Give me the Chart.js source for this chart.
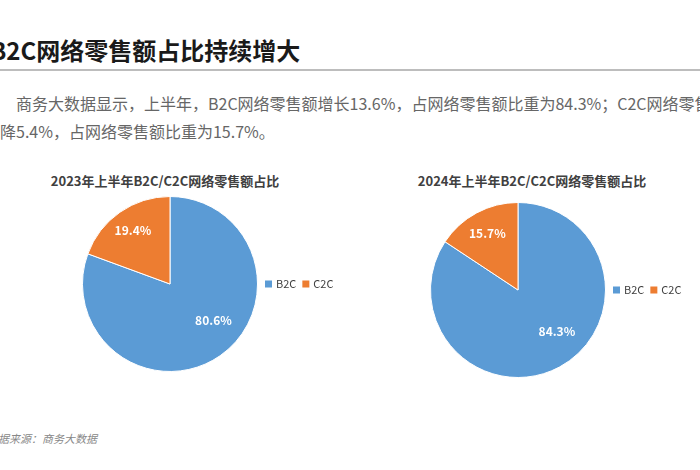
<!DOCTYPE html>
<html>
<head>
<meta charset="utf-8">
<script src="https://cdn.jsdelivr.net/npm/chart.js@4.4.1/dist/chart.umd.min.js"></script>
<style>
  body { margin: 0; width: 700px; height: 470px; overflow: hidden; background: #fff; position: relative;
         font-family: "Noto Sans CJK SC", sans-serif; }
  .headline { position: absolute; left: -10px; top: 33px; font-size: 24px; font-weight: 700; color: #1a1a1a;
              line-height: 34px; white-space: nowrap; }
  .rule { position: absolute; left: 0; top: 69px; width: 700px; height: 2px; background: #bdbdbd; }
  .para { position: absolute; left: -16px; white-space: nowrap; font-size: 16px; color: #666; line-height: 28px; }
  .ctitle { position: absolute; top: 171px; width: 300px; text-align: center; font-size: 13px; font-weight: 700;
            color: #404040; white-space: nowrap; line-height: 20px; }
  .source { position: absolute; left: -13px; top: 430px; font-size: 11px; font-style: italic; color: #888; white-space: nowrap; }
  canvas { position: absolute; }
</style>
</head>
<body>
<div class="headline">B2C网络零售额占比持续增大</div>
<div class="rule"></div>
<div class="para" style="top:89px;text-indent:32px;">商务大数据显示，上半年，B2C网络零售额增长13.6%，占网络零售额比重为84.3%；C2C网络零售额下</div>
<div class="para" style="top:117px;">下降5.4%，占网络零售额比重为15.7%。</div>

<div class="ctitle" style="left:15px;">2023年上半年B2C/C2C网络零售额占比</div>
<div class="ctitle" style="left:382px;">2024年上半年B2C/C2C网络零售额占比</div>

<div style="position:absolute;left:0;top:190px;width:350px;height:190px;"><canvas id="pie2023"></canvas></div>
<div style="position:absolute;left:350px;top:190px;width:350px;height:200px;"><canvas id="pie2024"></canvas></div>

<div class="source">数据来源：商务大数据</div>

<script>
const channels = ['B2C', 'C2C'];
const share2023 = [80.6, 19.4];
const share2024 = [84.3, 15.7];
const sliceColors = ['#5B9BD5', '#ED7D31'];

// white percentage text inside each slice
const sliceLabels = {
  id: 'sliceLabels',
  afterDatasetsDraw(chart) {
    const ctx = chart.ctx;
    const meta = chart.getDatasetMeta(0);
    const values = chart.data.datasets[0].data;
    ctx.save();
    ctx.font = 'bold 12px "Noto Sans CJK SC", sans-serif';
    ctx.fillStyle = '#fff';
    ctx.textAlign = 'center';
    ctx.textBaseline = 'middle';
    meta.data.forEach((arc, i) => {
      const p = arc.getProps(['x', 'y', 'startAngle', 'endAngle', 'outerRadius'], true);
      let mid = (p.startAngle + p.endAngle) / 2;
      let r = p.outerRadius * 0.74;
      if (values[i] > 50) {
        // excel style "best fit": big slice label turned back a little, closer in
        mid -= 0.26;
        r = p.outerRadius * 0.65;
      }
      ctx.fillText(values[i].toFixed(1) + '%', p.x + Math.cos(mid) * r, p.y + Math.sin(mid) * r);
    });
    ctx.restore();
  }
};

// legend in one row, right of the pie
const rowLegend = {
  id: 'rowLegend',
  afterDraw(chart) {
    const ctx = chart.ctx;
    const area = chart.chartArea;
    const colors = chart.data.datasets[0].backgroundColor;
    let x = area.right + 7;
    const y = (area.top + area.bottom) / 2;
    ctx.save();
    ctx.font = '11px "Noto Sans CJK SC", sans-serif';
    ctx.textBaseline = 'middle';
    chart.data.labels.forEach((lab, i) => {
      ctx.fillStyle = colors[i];
      ctx.fillRect(x, y - 3.5, 7, 7);
      x += 11;
      ctx.fillStyle = '#404040';
      ctx.fillText(lab, x, y);
      x += ctx.measureText(lab).width + 6;
    });
    ctx.restore();
  }
};

function makePie(id, values, pad) {
  return new Chart(document.getElementById(id), {
    type: 'pie',
    data: {
      labels: channels,
      datasets: [{
        data: values,
        backgroundColor: sliceColors,
        borderColor: '#fff',
        borderWidth: 1
      }]
    },
    options: {
      animation: false,
      responsive: true,
      maintainAspectRatio: false,
      layout: { padding: pad },
      plugins: {
        legend: { display: false },
        title: { display: false },
        tooltip: { enabled: false }
      }
    },
    plugins: [sliceLabels, rowLegend]
  });
}

makePie('pie2023', share2023, { left: 82, right: 92, top: 6, bottom: 8 });
makePie('pie2024', share2024, { left: 80, right: 94, top: 12, bottom: 12 });
</script>
</body>
</html>
